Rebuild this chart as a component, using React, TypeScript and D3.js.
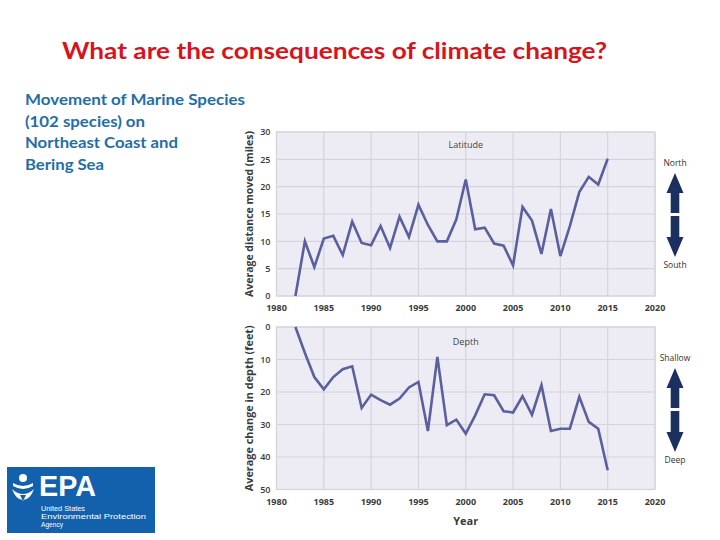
import { useRef, useEffect } from 'react';
import * as d3 from 'd3';

const years = [
  1982, 1983, 1984, 1985, 1986, 1987, 1988, 1989, 1990, 1991, 1992, 1993,
  1994, 1995, 1996, 1997, 1998, 1999, 2000, 2001, 2002, 2003, 2004, 2005,
  2006, 2007, 2008, 2009, 2010, 2011, 2012, 2013, 2014, 2015,
];

// average northward shift (miles)
const latitude = [
  0, 10, 5.3, 10.5, 11, 7.5, 13.6, 9.7, 9.3, 12.8, 8.8, 14.5, 10.8, 16.7, 13,
  10, 10, 14, 21.3, 12.2, 12.5, 9.6, 9.2, 5.6, 16.3, 13.8, 7.7, 15.9, 7.3,
  12.8, 19, 21.8, 20.4, 25.1,
];

// average change in depth (feet, deeper is larger)
const depth = [
  0, 8, 15.4, 19.2, 15.4, 13, 12.1, 24.9, 20.8, 22.5, 23.9, 22, 18.6, 16.9, 32,
  9.2, 30.2, 28.5, 32.8, 27.2, 20.7, 21, 25.9, 26.3, 21.3, 27, 17.9, 32, 31.3,
  31.3, 21.5, 29.2, 31.3, 44.1,
];

const yearTicks = [1980, 1985, 1990, 1995, 2000, 2005, 2010, 2015, 2020];
const latTicks = [0, 5, 10, 15, 20, 25, 30];
const depthTicks = [0, 10, 20, 30, 40, 50];

const subtitle = [
  'Movement of Marine Species',
  '(102 species) on',
  'Northeast Coast and',
  'Bering Sea',
];

const agencyLines = ['United States', 'Environmental Protection', 'Agency'];

function App() {
  const svgRef = useRef(null);
  const width = 720;
  const height = 540;

  useEffect(() => {
    const svg = d3.select(svgRef.current);
    svg.selectAll('*').remove();

    const axisFont = "'Open Sans', 'DejaVu Sans', sans-serif";
    const textCol = '#3b3b3b';
    const lineCol = '#5a5f9e';
    const arrowCol = '#1b305f';

    svg.append('rect').attr('width', width).attr('height', height).attr('fill', '#fff');

    // title
    svg
      .append('text')
      .attr('x', 62)
      .attr('y', 59)
      .attr('textLength', 545)
      .attr('lengthAdjust', 'spacingAndGlyphs')
      .attr('font-family', "Lato, 'Open Sans', sans-serif")
      .attr('font-weight', 700)
      .attr('font-size', 23)
      .attr('fill', '#d7141e')
      .text('What are the consequences of climate change?');

    const sub = [220, 120, 153, 79];
    svg
      .selectAll('.sub')
      .data(subtitle)
      .join('text')
      .attr('class', 'sub')
      .attr('x', 25)
      .attr('y', (d, i) => 105 + i * 21.6)
      .attr('textLength', (d, i) => sub[i])
      .attr('lengthAdjust', 'spacingAndGlyphs')
      .attr('font-family', "Lato, 'Open Sans', sans-serif")
      .attr('font-weight', 700)
      .attr('font-size', 15)
      .attr('fill', '#1f6ea8')
      .text((d) => d);

    const x = d3.scaleLinear().domain([1980, 2020]).range([276.5, 655]);

    const panels = [
      {
        values: latitude,
        ticks: latTicks,
        y: d3.scaleLinear().domain([0, 30]).range([296, 132]),
        label: 'Average distance moved (miles)',
        tag: 'Latitude',
        tagY: 148,
        tickY: 311,
        up: 'North',
        down: 'South',
        arrowTop: 173,
      },
      {
        values: depth,
        ticks: depthTicks,
        y: d3.scaleLinear().domain([0, 50]).range([327, 489.5]),
        label: 'Average change in depth (feet)',
        tag: 'Depth',
        tagY: 345,
        tickY: 505,
        up: 'Shallow',
        down: 'Deep',
        arrowTop: 368,
      },
    ];

    panels.forEach((p) => {
      const g = svg.append('g');
      const [y0, y1] = p.y.range();
      const top = Math.min(y0, y1);
      const bottom = Math.max(y0, y1);

      g.append('rect')
        .attr('x', x(1980))
        .attr('y', top)
        .attr('width', x(2020) - x(1980))
        .attr('height', bottom - top)
        .attr('fill', '#edecf4')
        .attr('stroke', '#d5d4dc')
        .attr('stroke-width', 1.2);

      g.selectAll('.vgrid')
        .data(yearTicks)
        .join('line')
        .attr('x1', (d) => x(d))
        .attr('x2', (d) => x(d))
        .attr('y1', top)
        .attr('y2', bottom)
        .attr('stroke', '#d5d4dc')
        .attr('stroke-width', 1.2);

      g.selectAll('.hgrid')
        .data(p.ticks)
        .join('line')
        .attr('x1', x(1980))
        .attr('x2', x(2020))
        .attr('y1', (d) => p.y(d))
        .attr('y2', (d) => p.y(d))
        .attr('stroke', '#d5d4dc')
        .attr('stroke-width', 1.2);

      g.selectAll('.ytick')
        .data(p.ticks)
        .join('text')
        .attr('x', 270.5)
        .attr('y', (d) => p.y(d) + 3.3)
        .attr('text-anchor', 'end')
        .attr('font-family', axisFont)
        .attr('font-weight', 600)
        .attr('font-size', 9)
        .attr('fill', textCol)
        .text((d) => d);

      g.selectAll('.xtick')
        .data(yearTicks)
        .join('text')
        .attr('x', (d) => x(d))
        .attr('y', p.tickY)
        .attr('text-anchor', 'middle')
        .attr('font-family', axisFont)
        .attr('font-weight', 700)
        .attr('font-size', 9)
        .attr('fill', textCol)
        .text((d) => d);

      g.append('text')
        .attr('transform', `translate(252.5,${(top + bottom) / 2}) rotate(-90)`)
        .attr('text-anchor', 'middle')
        .attr('textLength', 166)
        .attr('lengthAdjust', 'spacingAndGlyphs')
        .attr('font-family', axisFont)
        .attr('font-weight', 700)
        .attr('font-size', 10)
        .attr('fill', textCol)
        .text(p.label);

      g.append('text')
        .attr('x', x(2000))
        .attr('y', p.tagY)
        .attr('text-anchor', 'middle')
        .attr('font-family', axisFont)
        .attr('font-size', 9)
        .attr('fill', '#444')
        .text(p.tag);

      const line = d3
        .line<number>()
        .x((d, i) => x(years[i]))
        .y((d) => p.y(d));

      g.append('path')
        .datum(p.values)
        .attr('d', line)
        .attr('fill', 'none')
        .attr('stroke', lineCol)
        .attr('stroke-width', 2.6)
        .attr('stroke-linejoin', 'miter');

      // direction arrows on the right
      const ax = 675;
      const t = p.arrowTop;
      g.append('path')
        .attr(
          'd',
          `M${ax},${t} L${ax + 8.5},${t + 20} L${ax + 4.3},${t + 20} L${ax + 4.3},${t + 40} ` +
            `L${ax - 4.3},${t + 40} L${ax - 4.3},${t + 20} L${ax - 8.5},${t + 20} Z`
        )
        .attr('fill', arrowCol);
      g.append('path')
        .attr(
          'd',
          `M${ax},${t + 84} L${ax + 8.5},${t + 64} L${ax + 4.3},${t + 64} L${ax + 4.3},${t + 43} ` +
            `L${ax - 4.3},${t + 43} L${ax - 4.3},${t + 64} L${ax - 8.5},${t + 64} Z`
        )
        .attr('fill', arrowCol);

      g.append('text')
        .attr('x', ax)
        .attr('y', t - 7)
        .attr('text-anchor', 'middle')
        .attr('font-family', axisFont)
        .attr('font-size', 8.5)
        .attr('fill', '#333')
        .text(p.up);
      g.append('text')
        .attr('x', ax)
        .attr('y', t + 95)
        .attr('text-anchor', 'middle')
        .attr('font-family', axisFont)
        .attr('font-size', 8.5)
        .attr('fill', '#333')
        .text(p.down);
    });

    svg
      .append('text')
      .attr('x', x(2000))
      .attr('y', 525)
      .attr('text-anchor', 'middle')
      .attr('font-family', axisFont)
      .attr('font-weight', 700)
      .attr('font-size', 11)
      .attr('fill', textCol)
      .text('Year');

    // agency logo block
    const logo = svg.append('g');
    logo
      .append('rect')
      .attr('x', 7)
      .attr('y', 467)
      .attr('width', 148)
      .attr('height', 66)
      .attr('fill', '#1361ad');
    logo
      .append('text')
      .attr('transform', 'translate(39,496) scale(1,1.2)')
      .attr('font-family', "'Liberation Sans', Arial, sans-serif")
      .attr('font-weight', 700)
      .attr('font-size', 25)
      .attr('textLength', 57)
      .attr('lengthAdjust', 'spacingAndGlyphs')
      .attr('fill', '#fff')
      .text('EPA');
    // flower-like emblem
    logo.append('circle').attr('cx', 23).attr('cy', 478).attr('r', 4).attr('fill', '#fff');
    logo
      .append('path')
      .attr('d', 'M13,483 Q23,489 33,483 L33,486 Q23,492 13,486 Z')
      .attr('fill', '#fff');
    logo
      .append('path')
      .attr('d', 'M12,489 Q16,500 23,500 Q30,500 34,489 Q29,494 23,494 Q17,494 12,489 Z M20,495 L26,495 L23,501 Z')
      .attr('fill', '#fff');
    const agencyWidths = [44, 105, 22];
    agencyLines.forEach((s, i) => {
      logo
        .append('text')
        .attr('x', 41)
        .attr('y', 510.5 + i * 8.4)
        .attr('textLength', agencyWidths[i])
        .attr('lengthAdjust', 'spacingAndGlyphs')
        .attr('font-family', "'Liberation Sans', Arial, sans-serif")
        .attr('font-size', 7.4)
        .attr('fill', '#fff')
        .text(s);
    });
  }, []);

  return (
    <svg
      ref={svgRef}
      width={width}
      height={height}
      style={{ position: 'absolute', left: 0, top: 0 }}
    ></svg>
  );
}

export default App;
